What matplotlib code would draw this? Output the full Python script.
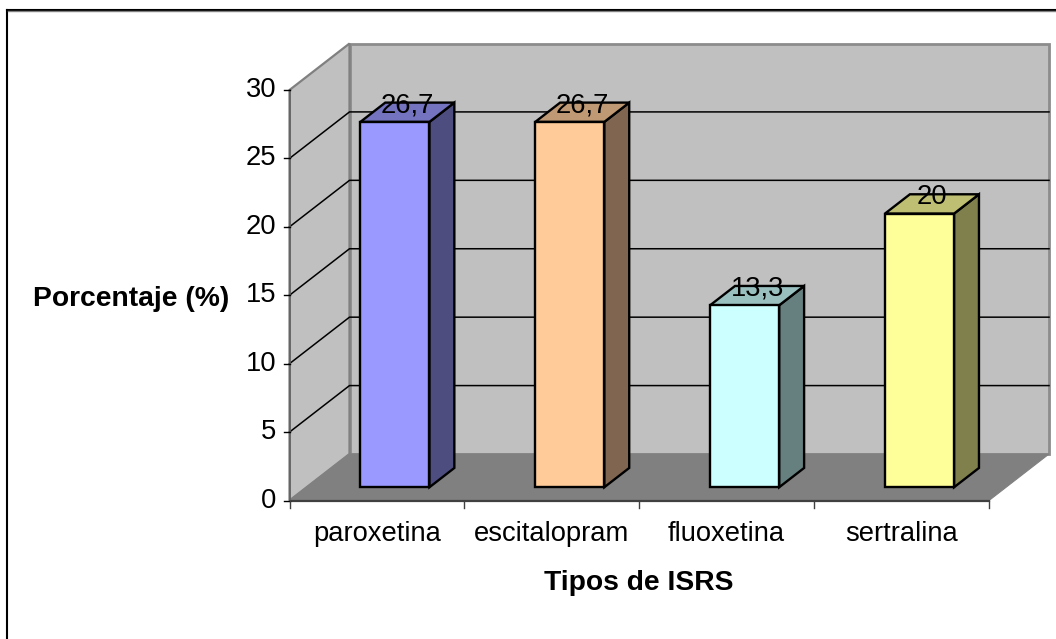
import matplotlib
matplotlib.use("Agg")
import matplotlib.pyplot as plt
from matplotlib.lines import Line2D

plt.rcParams["font.family"] = ["Liberation Sans", "DejaVu Sans"]

categories = ["paroxetina", "escitalopram", "fluoxetina", "sertralina"]
values = [26.7, 26.7, 13.3, 20]
value_labels = ["26,7", "26,7", "13,3", "20"]
y_ticks = [0, 5, 10, 15, 20, 25, 30]
front_colors = ["#9999FF", "#FFCC99", "#CCFFFF", "#FFFF99"]
top_colors = ["#7373BF", "#BF9973", "#99BFBF", "#BFBF73"]
side_colors = ["#4D4D80", "#806650", "#668080", "#80804D"]

W, H = 1056, 639
DX = 60 / (699.5 / 4)  # depth shift in data units
DY = 46.5 / (410.5 / 30)
BAR_W = 0.395
D0, D1 = 0.285, 0.70
FS = 19.7


def pt(x, y, d=0.0):
    return (x + d * DX, y + d * DY)


fig = plt.figure(figsize=(W / 100, H / 100), dpi=100, facecolor="white")
ax = fig.add_axes([289.5 / W, 1 - 500.5 / H, 699.5 / W, 410.5 / H])
ax.set_xlim(0, 4)
ax.set_ylim(0, 30)
ax.axis("off")


def poly(points, fc, ec="black", lw=1.7, z=2):
    ax.fill(*zip(*points), facecolor=fc, edgecolor=ec, linewidth=lw, zorder=z,
            clip_on=False, joinstyle="miter")


# walls and floor
poly([pt(0, 0, 1), pt(4, 0, 1), pt(4, 30, 1), pt(0, 30, 1)], "#C0C0C0", "#8C8C8C", 2, 1)
poly([pt(0, 0), pt(0, 0, 1), pt(0, 30, 1), pt(0, 30)], "#C0C0C0", "#808080", 1.6, 1)
poly([pt(0, 0), pt(4, 0), pt(4, 0, 1), pt(0, 0, 1)], "#808080", "#808080", 0.8, 1)

# grid on left and back walls
for v in y_ticks[1:-1]:
    ax.plot(*zip(pt(0, v), pt(0, v, 1), pt(4, v, 1)), color="black", lw=1.1, zorder=1.5,
            clip_on=False)

# front axis lines and ticks
ax.plot([0, 4], [0, 0], color="#404040", lw=1.6, zorder=1.6, clip_on=False)
ax.plot([0, 0], [0, 30], color="#606060", lw=1.2, zorder=1.6, clip_on=False)
tick_x = 6 / (699.5 / 4)
tick_y = 7 / (410.5 / 30)
for v in y_ticks:
    ax.plot([-tick_x, 0], [v, v], color="black", lw=1, clip_on=False)
    ax.text(-0.075, v, str(v), ha="right", va="center", fontsize=FS)
for i in range(len(categories) + 1):
    ax.plot([i, i], [0, -tick_y], color="#404040", lw=1, clip_on=False)

# bars
for i, v in enumerate(values):
    x0 = i + 0.505 - BAR_W / 2
    x1 = i + 0.505 + BAR_W / 2
    poly([pt(x1, 0, D0), pt(x1, 0, D1), pt(x1, v, D1), pt(x1, v, D0)], side_colors[i], z=3)
    poly([pt(x0, v, D0), pt(x1, v, D0), pt(x1, v, D1), pt(x0, v, D1)], top_colors[i], z=3)
    poly([pt(x0, 0, D0), pt(x1, 0, D0), pt(x1, v, D0), pt(x0, v, D0)], front_colors[i], z=4)
    # label sits centred on the back edge of the bar's top face
    lx = pt(i + 0.505, v, (D0 + D1) / 2)[0]
    ly = pt(i + 0.505, v, D1)[1]
    ax.annotate(value_labels[i], (lx, ly), xytext=(0, -7.2), textcoords="offset points",
                ha="center", va="baseline", fontsize=FS, zorder=6, annotation_clip=False)

for i, c in enumerate(categories):
    ax.text(i + 0.5, -2.45, c, ha="center", va="center", fontsize=FS)

fig.text(131 / W, 1 - 299 / H, "Porcentaje (%)", ha="center", va="center", fontsize=20.3,
         fontweight="bold")
fig.text(639 / W, 1 - 583 / H, "Tipos de ISRS", ha="center", va="center", fontsize=20.3,
         fontweight="bold")

# chart frame, open on the right and at the bottom of the crop
fig.add_artist(Line2D([6.5 / W, 6.5 / W], [0, 1 - 9.5 / H], color="black", lw=1.5))
fig.add_artist(Line2D([6.5 / W, 1], [1 - 9.5 / H, 1 - 9.5 / H], color="black", lw=1.5))
fig.add_artist(Line2D([7.5 / W, 1], [1 - 10.8 / H, 1 - 10.8 / H], color="#808080", lw=1))

fig.savefig("out.png", dpi=100)
plt.close(fig)
